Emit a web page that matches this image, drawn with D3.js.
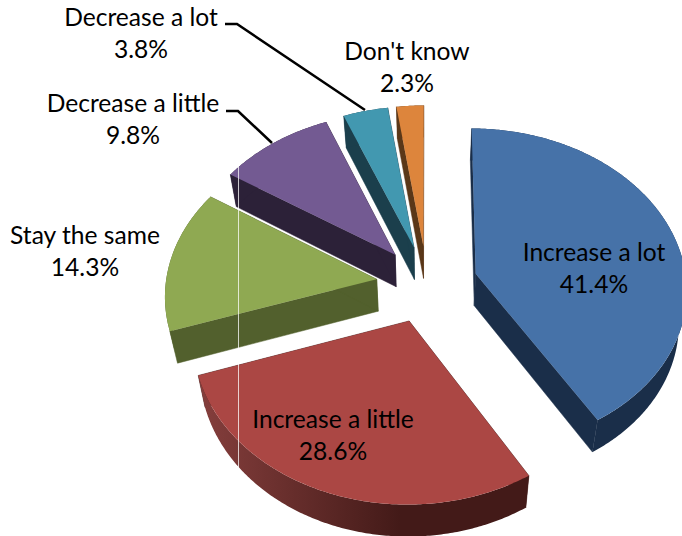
<!DOCTYPE html>
<html><head><meta charset="utf-8">
<script src="https://cdn.jsdelivr.net/npm/d3@7/dist/d3.min.js"></script>
<style>html,body{margin:0;padding:0;background:#fff}svg{display:block}</style>
</head><body><div id="c"></div>
<script>
const categories = ["Increase a lot","Increase a little","Stay the same","Decrease a little","Decrease a lot","Don't know"];
const values = [41.4,28.6,14.3,9.8,3.8,2.3];
const percentLabels = ["41.4%","28.6%","14.3%","9.8%","3.8%","2.3%"];
const topColors = ["#4672a8","#ab4744","#8fa952","#735a92","#4298b0","#dd853c"];
const sideColors = ["#1a2e49","#431a18","#52602d","#2c2138","#1b3f4c","#5a3718"];

const W=682,H=536;
const cx=427,cy=284,Rx=211,Ry=160,persp=0.09,explode=0.241,depth=32,taper=0.03;
const labelX=[594,333,85,133,141,407];
const labelY=[261,428,244,112,26,60];
const lineGap=32;

const svg=d3.select("#c").append("svg").attr("width",W).attr("height",H).attr("viewBox",[0,0,W,H]);
const defs=svg.append("defs");
const grad=defs.append("linearGradient").attr("id","redWall").attr("gradientUnits","userSpaceOnUse")
  .attr("x1",197).attr("x2",400).attr("y1",0).attr("y2",0);
grad.append("stop").attr("offset",0).attr("stop-color","#863f3d");
grad.append("stop").attr("offset",1).attr("stop-color","#431a18");

// world -> screen perspective projection
const project=(X,Y,low)=>{
  const s=1/(1+persp*Y);
  let x=cx+Rx*X*s, y=cy-Ry*Y*s;
  if(low){x-=(x-cx)*taper;y+=depth;}
  return [x,y];
};
const pie=d3.pie().sort(null).value(d=>d)(values);
const line=d3.line().curve(d3.curveLinear);
const slices=pie.map((p,i)=>{
  const mid=(p.startAngle+p.endAngle)/2;
  const ox=explode*Math.sin(mid), oy=explode*Math.cos(mid);
  const angles=d3.range(p.startAngle,p.endAngle,0.01).concat([p.endAngle]);
  const rim=angles.map(a=>[ox+Math.sin(a),oy+Math.cos(a)]);
  return {i,ox,oy,rim};
});
// paint far slices first
const order=slices.slice().sort((a,b)=>b.oy-a.oy);
const g=svg.append("g");
order.forEach(s=>{
  const i=s.i;
  const A=[s.ox,s.oy];
  const first=s.rim[0], last=s.rim[s.rim.length-1];
  const wall=(pts)=>{
    const up=pts.map(q=>project(q[0],q[1],false));
    const dn=pts.map(q=>project(q[0],q[1],true)).reverse();
    return line(up.concat(dn))+"Z";
  };
  const fillSide=i===1?"url(#redWall)":sideColors[i];
  g.append("path").attr("d",wall([A,first])).attr("fill",sideColors[i]).attr("stroke",sideColors[i]).attr("stroke-width",.5);
  g.append("path").attr("d",wall([A,last])).attr("fill",sideColors[i]).attr("stroke",sideColors[i]).attr("stroke-width",.5);
  g.append("path").attr("d",wall(s.rim)).attr("fill",fillSide);
  const top=[A].concat(s.rim).map(q=>project(q[0],q[1],false));
  g.append("path").attr("d",line(top)+"Z").attr("fill",topColors[i]);
});
// thin white artefact line crossing the chart
svg.append("line").attr("x1",238.5).attr("x2",238.5).attr("y1",165).attr("y2",470).attr("stroke","#fff").attr("stroke-opacity",.75).attr("stroke-width",1);

// leader lines
const leaders=[[[225,24],[237,24],[365,110]],[[226,111],[238,111],[272,143]]];
leaders.forEach(l=>svg.append("path").attr("d",line(l)).attr("fill","none").attr("stroke","#000").attr("stroke-width",2.5));

// labels
const labels=svg.append("g").attr("font-family","Lato, 'Open Sans', sans-serif").attr("font-size",24.6).attr("fill","#000").attr("text-anchor","middle");
categories.forEach((c,i)=>{
  labels.append("text").attr("x",labelX[i]).attr("y",labelY[i]).text(c);
  labels.append("text").attr("x",labelX[i]).attr("y",labelY[i]+lineGap).text(percentLabels[i]);
});
</script></body></html>
